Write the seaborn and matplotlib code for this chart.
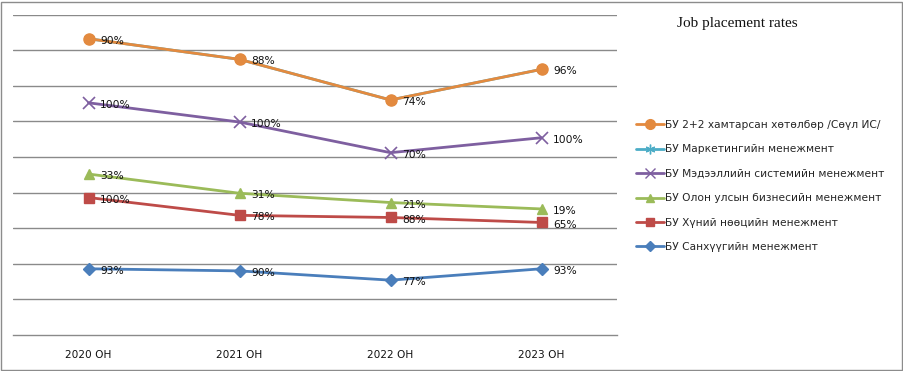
import numpy as np
import pandas as pd
import matplotlib
matplotlib.use("Agg")
import matplotlib.pyplot as plt
import seaborn as sns
from matplotlib.lines import Line2D
from matplotlib.patches import Rectangle

years = ["2020 OH", "2021 OH", "2022 OH", "2023 OH"]

# stacked line chart, bottom series first
finance = [0.93, 0.90, 0.77, 0.93]
hr = [1.00, 0.78, 0.88, 0.65]
intl_business = [0.33, 0.31, 0.21, 0.19]
info_systems = [1.00, 1.00, 0.70, 1.00]
marketing = [0.90, 0.88, 0.74, 0.96]
program_2plus2 = [0.0, 0.0, 0.0, 0.0]

series_names = [
    "БУ Санхүүгийн менежмент",
    "БУ Хүний нөөцийн менежмент",
    "БУ Олон улсын бизнесийн менежмент",
    "БУ Мэдээллийн системийн менежмент",
    "БУ Маркетингийн менежмент",
    "БУ 2+2 хамтарсан хөтөлбөр /Сөүл ИС/",
]
series_values = [finance, hr, intl_business, info_systems, marketing, program_2plus2]
show_labels = [True, True, True, True, True, False]

colors = ["#4A7EBB", "#BE4B48", "#9BBB59", "#7E5FA0", "#4BACC6", "#E38A3F"]
markers = ["D", "s", "^", "x", (6, 2, 0), "o"]
msizes = [6, 7, 7, 8, 8, 8]

sns.set_style("white")
plt.rcParams["font.family"] = ["DejaVu Sans"]

fig = plt.figure(figsize=(9.04, 3.71), dpi=100)
ax = fig.add_axes([13 / 904, 36 / 371, 604 / 904, 320.5 / 371])

x = np.arange(len(years))
cum = np.cumsum(np.array(series_values), axis=0)

for i, name in enumerate(series_names):
    df = pd.DataFrame({"x": x, "y": cum[i]})
    sns.lineplot(data=df, x="x", y="y", ax=ax, color=colors[i], lw=2.0,
                 marker=markers[i], markersize=msizes[i],
                 markeredgecolor=colors[i], markeredgewidth=1.0 if markers[i] != "x" else 1.2,
                 zorder=3 + i)
    if show_labels[i]:
        for xi, yi, v in zip(x, cum[i], series_values[i]):
            ax.annotate(f"{v:.0%}", (xi, yi), xytext=(8.5, -1.5), textcoords="offset points",
                        ha="left", va="center", fontsize=7.7, color="#111111", zorder=20)

ax.set_xlim(-0.5, 3.5)
ax.set_ylim(0, 4.5)
ax.set_yticks(np.arange(0.5, 4.51, 0.5))
ax.set_yticklabels([])
ax.tick_params(axis="y", length=0)
ax.yaxis.grid(True, color="#8a8a8a", lw=1.0)
ax.set_axisbelow(True)

ax.set_xticks(x)
ax.set_xticklabels(years, fontsize=7.6, color="#111111")
ax.set_xticks(np.arange(-0.5, 3.51, 1.0), minor=True)
ax.tick_params(axis="x", which="major", length=0, pad=11)
ax.tick_params(axis="x", which="minor", length=5, color="#8a8a8a", width=1.0, direction="out")
ax.set_xlabel("")
ax.set_ylabel("")
for side in ["left", "right", "top"]:
    ax.spines[side].set_visible(False)
ax.spines["bottom"].set_color("#8a8a8a")
ax.spines["bottom"].set_linewidth(1.0)

# legend, top entry first
handles = []
for i in reversed(range(len(series_names))):
    handles.append(Line2D([], [], color=colors[i], lw=2.0, marker=markers[i],
                          markersize=msizes[i] - 1, markeredgecolor=colors[i],
                          label=series_names[i]))
fig.legend(handles=handles, loc="upper left", bbox_to_anchor=(636 / 904, 1 - 120 / 371),
           frameon=False, fontsize=7.7, handlelength=2.6, handletextpad=0.15,
           labelspacing=1.35, borderaxespad=0, borderpad=0)

fig.text(737 / 904, 1 - 23 / 371, "Job placement rates", ha="center", va="center",
         fontsize=11, family="Liberation Serif", color="#111111")

fig.patches.append(Rectangle((0.5 / 904, 1.5 / 371), 902 / 904, 368 / 371,
                             transform=fig.transFigure, fill=False,
                             edgecolor="#8c8c8c", lw=1.0))

fig.savefig("out.png", dpi=100)
